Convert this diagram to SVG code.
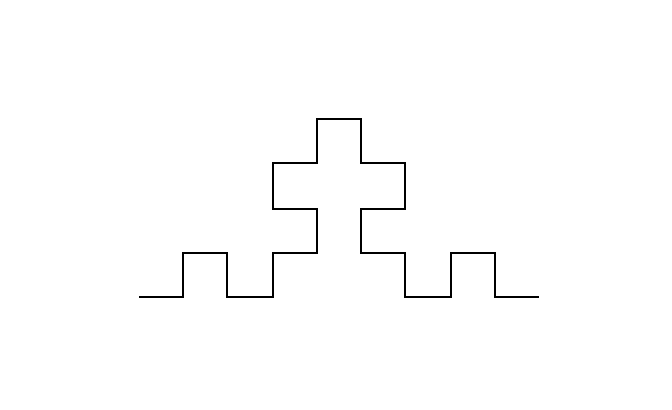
<svg xmlns="http://www.w3.org/2000/svg" width="672" height="410" viewBox="0 0 672 410">
<style>.curve{fill:none;stroke:#000;stroke-width:2;stroke-linejoin:miter}</style>
<rect width="672" height="410" fill="#fff"/>
<path class="curve" d="M139,297 H183 V253 H227 V297 H273 V253 H317 V209 H273 V163 H317 V119 H361 V163 H405 V209 H361 V253 H405 V297 H451 V253 H495 V297 H539"/>
</svg>
